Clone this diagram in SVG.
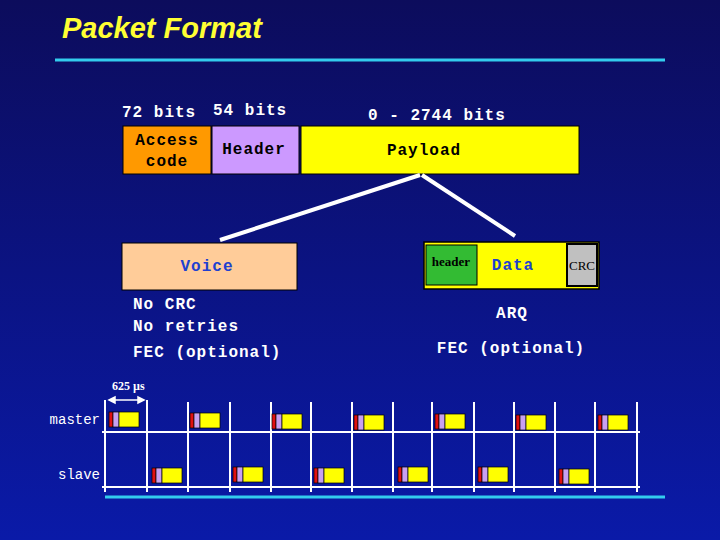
<svg xmlns="http://www.w3.org/2000/svg" width="720" height="540" viewBox="0 0 720 540">
<defs>
<linearGradient id="bg" x1="0" y1="0" x2="0" y2="1"><stop offset="0" stop-color="#0c0c5c"/><stop offset="1" stop-color="#0a1aa8"/></linearGradient>
<g id="pk"><rect x="0" y="0" width="4" height="15" fill="#e01010" stroke="#000" stroke-width="0.7"/><rect x="4" y="0" width="6" height="15" fill="#c8a0f0" stroke="#000" stroke-width="0.7"/><rect x="10" y="0" width="20" height="15" fill="#ffff00" stroke="#000" stroke-width="0.7"/></g>
</defs>
<style>
.m{font-family:"Liberation Mono",monospace;font-weight:bold;font-size:16px;fill:#fff;letter-spacing:1px}
.b{font-family:"Liberation Mono",monospace;font-weight:bold;font-size:16px;fill:#000;letter-spacing:1px}
.bl{font-family:"Liberation Mono",monospace;font-weight:bold;font-size:16px;fill:#2040d0;letter-spacing:1px}
.s{font-family:"Liberation Serif",serif;font-size:13px;fill:#000}
.w{stroke:#fff;stroke-width:2;fill:none}
</style>
<rect width="720" height="540" fill="url(#bg)"/>
<text x="62" y="38" font-family="Liberation Sans,sans-serif" font-weight="bold" font-style="italic" font-size="29" fill="#ffff33">Packet Format</text>
<line x1="55" y1="60" x2="665" y2="60" stroke="#33ccee" stroke-width="3"/>
<line x1="105" y1="497" x2="665" y2="497" stroke="#33ccee" stroke-width="3"/>
<text x="122" y="117" class="m">72 bits</text><text x="213" y="115" class="m">54 bits</text><text x="368" y="120" class="m">0 - 2744 bits</text>
<g id="access"><rect x="123" y="126" width="88" height="48" fill="#ff9900" stroke="#000"/><text x="167" y="145" class="b" text-anchor="middle">Access</text><text x="167" y="166" class="b" text-anchor="middle">code</text></g>
<g id="header"><rect x="212" y="126" width="87" height="48" fill="#cc99ff" stroke="#000"/><text x="254" y="154" class="b" text-anchor="middle">Header</text></g>
<g id="payload"><rect x="301" y="126" width="278" height="48" fill="#ffff00" stroke="#000"/><text x="424" y="155" class="b" text-anchor="middle">Payload</text></g>
<g id="connectors"><line x1="420" y1="175" x2="220" y2="240" stroke="#fff" stroke-width="4"/><line x1="422" y1="175" x2="515" y2="236" stroke="#fff" stroke-width="4"/></g>
<g id="voice"><rect x="122" y="243" width="175" height="47" fill="#ffcc99" stroke="#000"/><text x="207" y="271" class="bl" text-anchor="middle">Voice</text></g>
<g id="data"><rect x="424" y="242" width="175" height="47" fill="#ffff00" stroke="#000" stroke-width="1.5"/><rect x="426" y="245" width="51" height="40" fill="#33bb33" stroke="#000"/><text x="451" y="266" class="s" font-weight="bold" text-anchor="middle">header</text><text x="513" y="270" class="bl" text-anchor="middle">Data</text><rect x="567" y="244" width="30" height="42" fill="#c0c0c0" stroke="#000" stroke-width="2"/><text x="582" y="270" class="s" text-anchor="middle">CRC</text></g>
<text x="133" y="309" class="m">No CRC</text><text x="133" y="331" class="m">No retries</text><text x="133" y="357" class="m">FEC (optional)</text>
<text x="512" y="318" class="m" text-anchor="middle">ARQ</text><text x="511" y="353" class="m" text-anchor="middle">FEC (optional)</text>
<text x="112" y="390" font-family="Liberation Serif,serif" font-weight="bold" font-size="12" fill="#fff">625 µs</text>
<g stroke="#fff" stroke-width="1.5"><line x1="109" y1="400" x2="144" y2="400"/><path d="M109 400l6-3v6zM144 400l-6-3v6z" fill="#fff"/></g>
<text x="100" y="424" font-family="Liberation Mono,monospace" font-size="14" fill="#fff" text-anchor="end">master</text>
<text x="100" y="479" font-family="Liberation Mono,monospace" font-size="14" fill="#fff" text-anchor="end">slave</text>
<g class="w" stroke-width="2.5">
<path d="M105 400V492M147 400V492M188 402V492M230 402V492M271 402V492M311 402V492M352 402V492M393 402V492M432 402V492M474 402V492M514 402V492M555 402V492M595 402V492M637 402V492"/>
<path d="M102 432H640M102 487H640"/>
</g>
<use href="#pk" x="109" y="412"/><use href="#pk" x="190" y="413"/><use href="#pk" x="272" y="414"/><use href="#pk" x="354" y="415"/><use href="#pk" x="435" y="414"/><use href="#pk" x="516" y="415"/><use href="#pk" x="598" y="415"/>
<use href="#pk" x="152" y="468"/><use href="#pk" x="233" y="467"/><use href="#pk" x="314" y="468"/><use href="#pk" x="398" y="467"/><use href="#pk" x="478" y="467"/><use href="#pk" x="559" y="469"/>
</svg>
